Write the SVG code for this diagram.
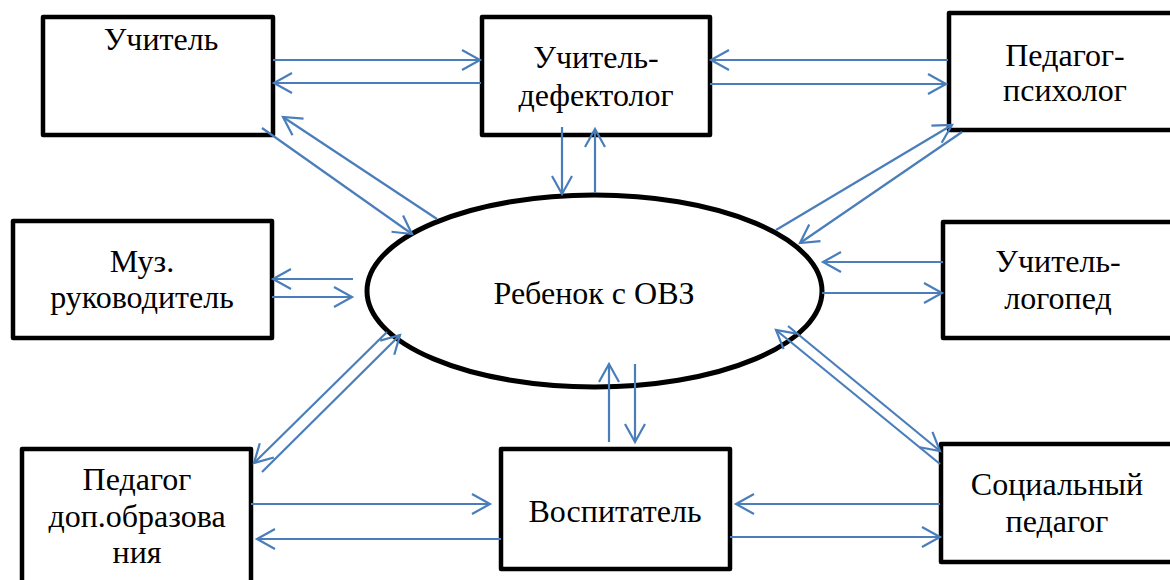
<svg xmlns="http://www.w3.org/2000/svg" width="1170" height="580" viewBox="0 0 1170 580">
<style>
.box{fill:#fff;stroke:#000;stroke-width:4.5;stroke-linejoin:round}
.t{font-family:"Liberation Serif","Times New Roman",serif;font-size:32px;fill:#000;text-anchor:middle}
.c{stroke:#4a7ebb;stroke-width:2.2;fill:none}
</style>
<defs>
<marker id="ah" markerUnits="userSpaceOnUse" markerWidth="26" markerHeight="26" refX="20" refY="11" orient="auto" overflow="visible">
<path d="M2,1 L20,11 L2,21" fill="none" stroke="#4a7ebb" stroke-width="2.2"/>
</marker>
</defs>
<rect width="1170" height="580" fill="#fff"/>
<g id="n-uchitel"><rect class="box" x="43" y="17" width="230" height="118"/><text class="t" x="161" y="50">Учитель</text></g>
<g id="n-defektolog"><rect class="box" x="482" y="17" width="228" height="118"/><text class="t" x="596" y="68">Учитель-</text><text class="t" x="596" y="106">дефектолог</text></g>
<g id="n-psiholog"><rect class="box" x="949" y="13" width="240" height="117"/><text class="t" x="1065" y="66">Педагог-</text><text class="t" x="1065" y="101">психолог</text></g>
<g id="n-muz"><rect class="box" x="13" y="221" width="259" height="117"/><text class="t" x="142" y="272">Муз.</text><text class="t" x="142" y="308">руководитель</text></g>
<g id="n-center"><ellipse cx="594.5" cy="291" rx="227.5" ry="96" fill="#fff" stroke="#000" stroke-width="5"/><text class="t" x="594" y="304">Ребенок с ОВЗ</text></g>
<g id="n-logoped"><rect class="box" x="943" y="222" width="240" height="116"/><text class="t" x="1058" y="272">Учитель-</text><text class="t" x="1058" y="309">логопед</text></g>
<g id="n-dopobr"><rect class="box" x="22" y="449" width="229" height="150"/><text class="t" x="137" y="490">Педагог</text><text class="t" x="137" y="527">доп.образова</text><text class="t" x="137" y="563">ния</text></g>
<g id="n-vospitatel"><rect class="box" x="501" y="449" width="229" height="120"/><text class="t" x="615" y="522">Воспитатель</text></g>
<g id="n-social"><rect class="box" x="941" y="444" width="240" height="118"/><text class="t" x="1057" y="495">Социальный</text><text class="t" x="1057" y="532">педагог</text></g>
<g id="connectors" class="c">
<line x1="273" y1="60" x2="480" y2="60" marker-end="url(#ah)"/>
<line x1="481" y1="83" x2="274" y2="83" marker-end="url(#ah)"/>
<line x1="948" y1="60" x2="711" y2="60" marker-end="url(#ah)"/>
<line x1="710" y1="84" x2="946" y2="84" marker-end="url(#ah)"/>
<line x1="562" y1="127" x2="562" y2="194" marker-end="url(#ah)"/>
<line x1="595" y1="193" x2="595" y2="129" marker-end="url(#ah)"/>
<line x1="262" y1="128" x2="412" y2="234" marker-end="url(#ah)"/>
<line x1="437" y1="219" x2="283" y2="117" marker-end="url(#ah)"/>
<line x1="776" y1="230" x2="952" y2="125" marker-end="url(#ah)"/>
<line x1="962" y1="132" x2="800" y2="243" marker-end="url(#ah)"/>
<line x1="943" y1="262" x2="823" y2="262" marker-end="url(#ah)"/>
<line x1="822" y1="293" x2="942" y2="293" marker-end="url(#ah)"/>
<line x1="353" y1="279" x2="273" y2="279" marker-end="url(#ah)"/>
<line x1="272" y1="297" x2="352" y2="297" marker-end="url(#ah)"/>
<line x1="387" y1="332" x2="254" y2="463" marker-end="url(#ah)"/>
<line x1="262" y1="472" x2="400" y2="335" marker-end="url(#ah)"/>
<line x1="609" y1="442" x2="609" y2="364" marker-end="url(#ah)"/>
<line x1="635" y1="364" x2="635" y2="442" marker-end="url(#ah)"/>
<line x1="940" y1="504" x2="736" y2="504" marker-end="url(#ah)"/>
<line x1="730" y1="537" x2="940" y2="537" marker-end="url(#ah)"/>
<line x1="251" y1="504" x2="490" y2="504" marker-end="url(#ah)"/>
<line x1="501" y1="539" x2="257" y2="539" marker-end="url(#ah)"/>
<line x1="940" y1="464" x2="776" y2="330" marker-end="url(#ah)"/>
<line x1="788" y1="326" x2="940" y2="451" marker-end="url(#ah)"/>
</g>
</svg>
